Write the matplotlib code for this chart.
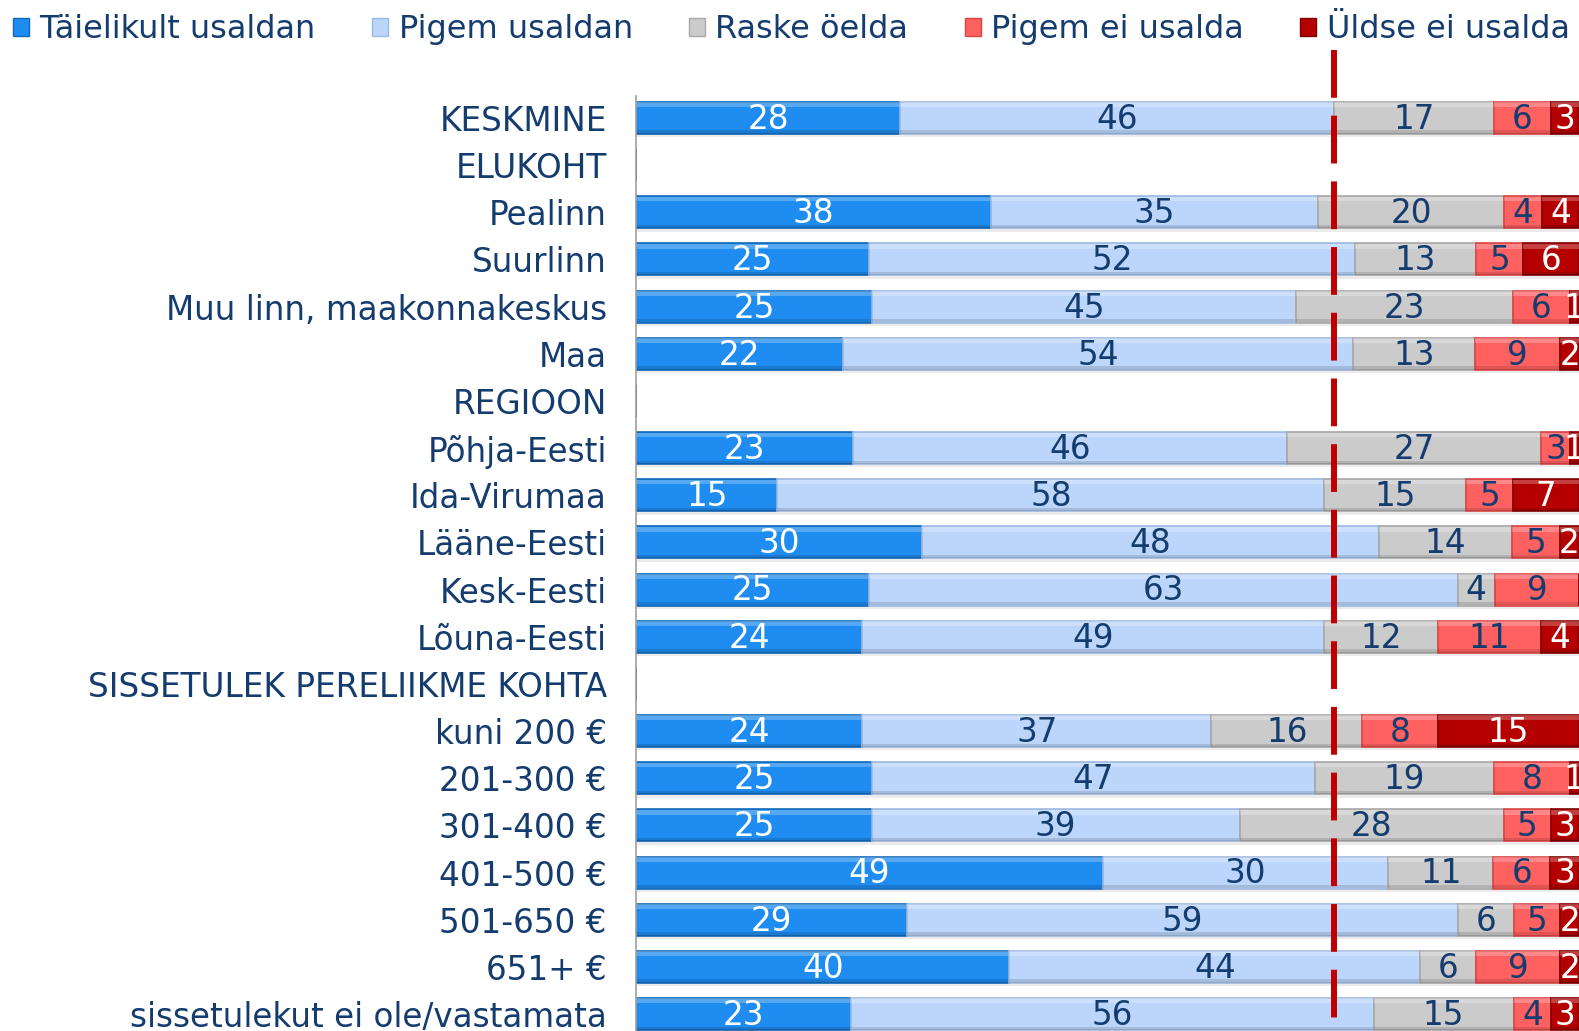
import numpy as np
import matplotlib
matplotlib.use("Agg")
import matplotlib.pyplot as plt
from matplotlib.patches import Patch

categories = ["KESKMINE", "ELUKOHT", "Pealinn", "Suurlinn", "Muu linn, maakonnakeskus", "Maa",
              "REGIOON", "Põhja-Eesti", "Ida-Virumaa", "Lääne-Eesti", "Kesk-Eesti", "Lõuna-Eesti",
              "SISSETULEK PERELIIKME KOHTA", "kuni 200 €", "201-300 €", "301-400 €", "401-500 €",
              "501-650 €", "651+ €", "sissetulekut ei ole/vastamata"]

series_names = ["Täielikult usaldan", "Pigem usaldan", "Raske öelda", "Pigem ei usalda", "Üldse ei usalda"]

# header rows have 0 everywhere
taielikult = [28, 0, 38, 25, 25, 22, 0, 23, 15, 30, 25, 24, 0, 24, 25, 25, 49, 29, 40, 23]
pigem_us = [46, 0, 35, 52, 45, 54, 0, 46, 58, 48, 63, 49, 0, 37, 47, 39, 30, 59, 44, 56]
raske = [17, 0, 20, 13, 23, 13, 0, 27, 15, 14, 4, 12, 0, 16, 19, 28, 11, 6, 6, 15]
pigem_ei = [6, 0, 4, 5, 6, 9, 0, 3, 5, 5, 9, 11, 0, 8, 8, 5, 6, 5, 9, 4]
uldse_ei = [3, 0, 4, 6, 1, 2, 0, 1, 7, 2, 0, 4, 0, 15, 1, 3, 3, 2, 2, 3]

avg_line = 74  # Täielikult + Pigem usaldan, KESKMINE

colors = ["#1E8CF0", "#BCD6FB", "#CBCBCB", "#FF6060", "#B40000"]
edge_colors = ["#1268B8", "#9DB9E0", "#A8A8A8", "#D84545", "#800000"]
label_colors = ["white", "#143C6E", "#143C6E", "#143C6E", "white"]
text_color = "#143C6E"

plt.rcParams["font.family"] = ["DejaVu Sans"]
fs = 23.5

vals = np.array([taielikult, pigem_us, raske, pigem_ei, uldse_ei], dtype=float)
tot = vals.sum(axis=0)
tot[tot == 0] = 1
widths = vals / tot * 100

fig = plt.figure(figsize=(15.79, 10.31), dpi=100)
ax = fig.add_axes([636 / 1579, 0, 943 / 1579, 1 - 96 / 1031])

y = np.arange(len(categories))
h = 0.68
left = np.zeros(len(categories))
for i in range(5):
    w = widths[i]
    # soft shadow under the bars
    ax.barh(y + 0.07, w, left=left, height=h, color="#000000", alpha=0.08, linewidth=0)
    ax.barh(y, w, left=left, height=h, color=colors[i], edgecolor=edge_colors[i],
            linewidth=1.2, label=series_names[i])
    # light strip on top, darker strip at the bottom (bevel look)
    ax.barh(y - h / 2 + 0.06, w, left=left, height=0.1, color="white", alpha=0.25, linewidth=0)
    ax.barh(y + h / 2 - 0.04, w, left=left, height=0.07, color="black", alpha=0.12, linewidth=0)
    for j, v in enumerate(vals[i]):
        if v > 0:
            ax.text(left[j] + w[j] / 2, y[j] + 0.03, str(int(v)), ha="center", va="center",
                    fontsize=fs, color=label_colors[i], clip_on=True)
    left = left + w

ax.plot([avg_line, avg_line], [-1.44, 19.16], color="#C00000", lw=4.3, dashes=(8, 3),
        solid_capstyle="butt", dash_capstyle="butt", clip_on=False, zorder=5)

ax.set_xlim(0, 100)
ax.set_ylim(19.36, -0.466)
ax.set_yticks(y)
ax.set_yticklabels(categories, fontsize=fs, color=text_color)
ax.tick_params(axis="y", length=0, pad=21)
ax.set_xticks([])
for s in ["top", "right", "bottom"]:
    ax.spines[s].set_visible(False)
ax.spines["left"].set_color("#A0A0A0")
ax.spines["left"].set_linewidth(1.2)

handles = [Patch(facecolor=colors[i], edgecolor=edge_colors[i]) for i in range(5)]
leg = fig.legend(handles, series_names, loc="upper left", bbox_to_anchor=(13 / 1579, 1 - 14 / 1031),
                 ncol=5, frameon=False, fontsize=23, handlelength=0.5, handleheight=0.5,
                 handletextpad=0.33, columnspacing=1.76, borderpad=0, borderaxespad=0)
for t in leg.get_texts():
    t.set_color(text_color)

fig.savefig("out.png", dpi=100)
